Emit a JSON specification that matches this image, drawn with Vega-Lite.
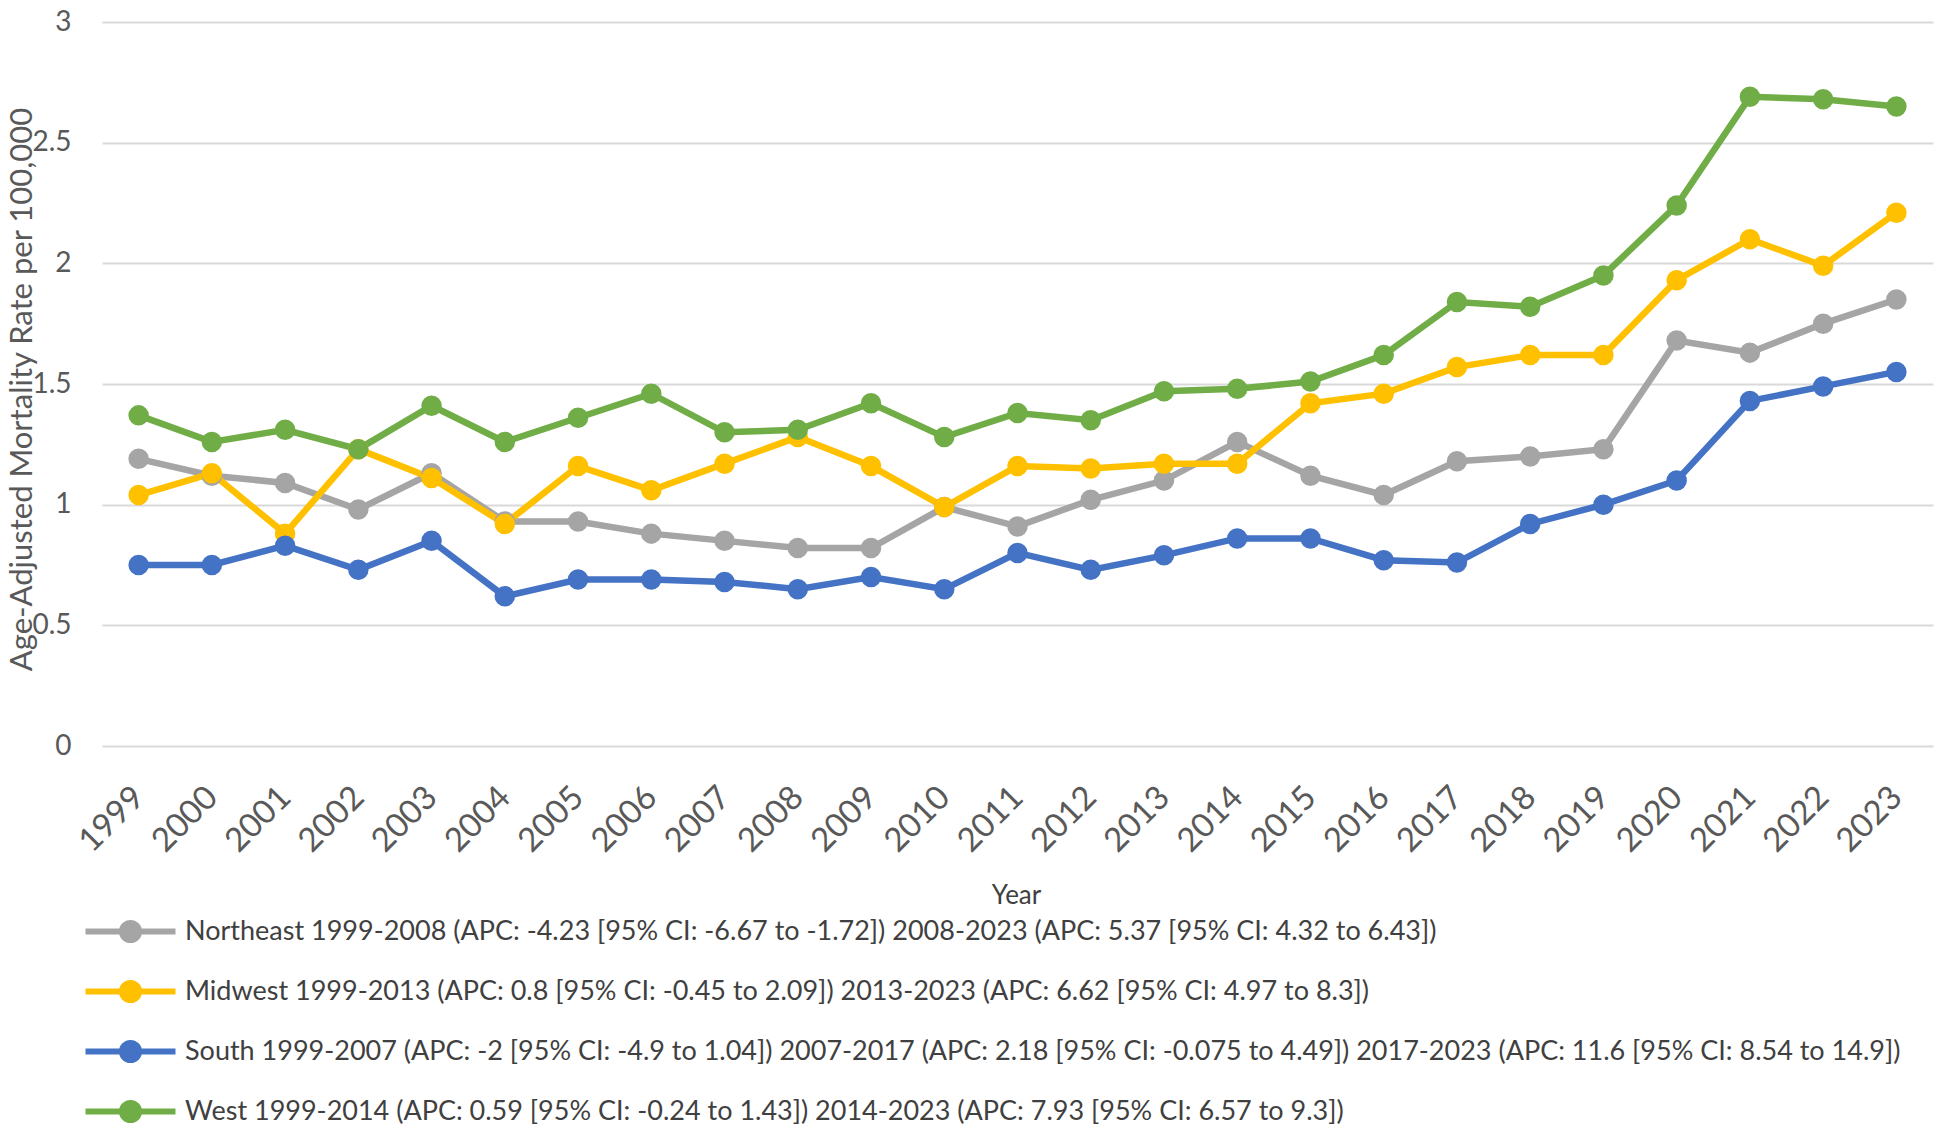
{
  "$schema": "https://vega.github.io/schema/vega-lite/v6.json",
  "width": 1831,
  "height": 724,
  "autosize": {"type": "none"},
  "padding": {"left": 102, "top": 22, "right": 10, "bottom": 382},
  "background": "white",
  "config": {
    "font": "Lato",
    "view": {"stroke": null}
  },
  "data": {
    "values": [
      {"year": "1999", "region": "Northeast", "rate": 1.19},
      {"year": "2000", "region": "Northeast", "rate": 1.12},
      {"year": "2001", "region": "Northeast", "rate": 1.09},
      {"year": "2002", "region": "Northeast", "rate": 0.98},
      {"year": "2003", "region": "Northeast", "rate": 1.13},
      {"year": "2004", "region": "Northeast", "rate": 0.93},
      {"year": "2005", "region": "Northeast", "rate": 0.93},
      {"year": "2006", "region": "Northeast", "rate": 0.88},
      {"year": "2007", "region": "Northeast", "rate": 0.85},
      {"year": "2008", "region": "Northeast", "rate": 0.82},
      {"year": "2009", "region": "Northeast", "rate": 0.82},
      {"year": "2010", "region": "Northeast", "rate": 0.99},
      {"year": "2011", "region": "Northeast", "rate": 0.91},
      {"year": "2012", "region": "Northeast", "rate": 1.02},
      {"year": "2013", "region": "Northeast", "rate": 1.10},
      {"year": "2014", "region": "Northeast", "rate": 1.26},
      {"year": "2015", "region": "Northeast", "rate": 1.12},
      {"year": "2016", "region": "Northeast", "rate": 1.04},
      {"year": "2017", "region": "Northeast", "rate": 1.18},
      {"year": "2018", "region": "Northeast", "rate": 1.20},
      {"year": "2019", "region": "Northeast", "rate": 1.23},
      {"year": "2020", "region": "Northeast", "rate": 1.68},
      {"year": "2021", "region": "Northeast", "rate": 1.63},
      {"year": "2022", "region": "Northeast", "rate": 1.75},
      {"year": "2023", "region": "Northeast", "rate": 1.85},
      {"year": "1999", "region": "Midwest", "rate": 1.04},
      {"year": "2000", "region": "Midwest", "rate": 1.13},
      {"year": "2001", "region": "Midwest", "rate": 0.88},
      {"year": "2002", "region": "Midwest", "rate": 1.23},
      {"year": "2003", "region": "Midwest", "rate": 1.11},
      {"year": "2004", "region": "Midwest", "rate": 0.92},
      {"year": "2005", "region": "Midwest", "rate": 1.16},
      {"year": "2006", "region": "Midwest", "rate": 1.06},
      {"year": "2007", "region": "Midwest", "rate": 1.17},
      {"year": "2008", "region": "Midwest", "rate": 1.28},
      {"year": "2009", "region": "Midwest", "rate": 1.16},
      {"year": "2010", "region": "Midwest", "rate": 0.99},
      {"year": "2011", "region": "Midwest", "rate": 1.16},
      {"year": "2012", "region": "Midwest", "rate": 1.15},
      {"year": "2013", "region": "Midwest", "rate": 1.17},
      {"year": "2014", "region": "Midwest", "rate": 1.17},
      {"year": "2015", "region": "Midwest", "rate": 1.42},
      {"year": "2016", "region": "Midwest", "rate": 1.46},
      {"year": "2017", "region": "Midwest", "rate": 1.57},
      {"year": "2018", "region": "Midwest", "rate": 1.62},
      {"year": "2019", "region": "Midwest", "rate": 1.62},
      {"year": "2020", "region": "Midwest", "rate": 1.93},
      {"year": "2021", "region": "Midwest", "rate": 2.10},
      {"year": "2022", "region": "Midwest", "rate": 1.99},
      {"year": "2023", "region": "Midwest", "rate": 2.21},
      {"year": "1999", "region": "South", "rate": 0.75},
      {"year": "2000", "region": "South", "rate": 0.75},
      {"year": "2001", "region": "South", "rate": 0.83},
      {"year": "2002", "region": "South", "rate": 0.73},
      {"year": "2003", "region": "South", "rate": 0.85},
      {"year": "2004", "region": "South", "rate": 0.62},
      {"year": "2005", "region": "South", "rate": 0.69},
      {"year": "2006", "region": "South", "rate": 0.69},
      {"year": "2007", "region": "South", "rate": 0.68},
      {"year": "2008", "region": "South", "rate": 0.65},
      {"year": "2009", "region": "South", "rate": 0.70},
      {"year": "2010", "region": "South", "rate": 0.65},
      {"year": "2011", "region": "South", "rate": 0.80},
      {"year": "2012", "region": "South", "rate": 0.73},
      {"year": "2013", "region": "South", "rate": 0.79},
      {"year": "2014", "region": "South", "rate": 0.86},
      {"year": "2015", "region": "South", "rate": 0.86},
      {"year": "2016", "region": "South", "rate": 0.77},
      {"year": "2017", "region": "South", "rate": 0.76},
      {"year": "2018", "region": "South", "rate": 0.92},
      {"year": "2019", "region": "South", "rate": 1.00},
      {"year": "2020", "region": "South", "rate": 1.10},
      {"year": "2021", "region": "South", "rate": 1.43},
      {"year": "2022", "region": "South", "rate": 1.49},
      {"year": "2023", "region": "South", "rate": 1.55},
      {"year": "1999", "region": "West", "rate": 1.37},
      {"year": "2000", "region": "West", "rate": 1.26},
      {"year": "2001", "region": "West", "rate": 1.31},
      {"year": "2002", "region": "West", "rate": 1.23},
      {"year": "2003", "region": "West", "rate": 1.41},
      {"year": "2004", "region": "West", "rate": 1.26},
      {"year": "2005", "region": "West", "rate": 1.36},
      {"year": "2006", "region": "West", "rate": 1.46},
      {"year": "2007", "region": "West", "rate": 1.30},
      {"year": "2008", "region": "West", "rate": 1.31},
      {"year": "2009", "region": "West", "rate": 1.42},
      {"year": "2010", "region": "West", "rate": 1.28},
      {"year": "2011", "region": "West", "rate": 1.38},
      {"year": "2012", "region": "West", "rate": 1.35},
      {"year": "2013", "region": "West", "rate": 1.47},
      {"year": "2014", "region": "West", "rate": 1.48},
      {"year": "2015", "region": "West", "rate": 1.51},
      {"year": "2016", "region": "West", "rate": 1.62},
      {"year": "2017", "region": "West", "rate": 1.84},
      {"year": "2018", "region": "West", "rate": 1.82},
      {"year": "2019", "region": "West", "rate": 1.95},
      {"year": "2020", "region": "West", "rate": 2.24},
      {"year": "2021", "region": "West", "rate": 2.69},
      {"year": "2022", "region": "West", "rate": 2.68},
      {"year": "2023", "region": "West", "rate": 2.65}
    ]
  },
  "mark": {"type": "line", "strokeWidth": 6.5, "point": {"filled": true, "size": 420, "opacity": 1}},
  "encoding": {
    "x": {
      "field": "year",
      "type": "ordinal",
      "scale": {"type": "point", "padding": 0.5},
      "axis": {
        "title": "Year",
        "titleFontSize": 26,
        "titleFontWeight": "normal",
        "titleColor": "#404040",
        "titleX": 914,
        "titleY": 149,
        "titleBaseline": "middle",
        "titleAlign": "center",
        "labelAngle": -45,
        "labelAlign": "right",
        "labelBaseline": "middle",
        "labelPadding": 46,
        "labelFontSize": 33,
        "labelColor": "#595959",
        "ticks": false,
        "domain": false,
        "grid": false
      }
    },
    "y": {
      "field": "rate",
      "type": "quantitative",
      "scale": {"domain": [0, 3], "nice": false},
      "axis": {
        "title": "Age-Adjusted Mortality Rate per 100,000",
        "titleFontSize": 31,
        "titleFontWeight": "normal",
        "titleColor": "#595959",
        "titleX": -80,
        "titleY": 367,
        "titleAngle": -90,
        "titleAlign": "center",
        "titleBaseline": "middle",
        "values": [0, 0.5, 1, 1.5, 2, 2.5, 3],
        "format": "~g",
        "labelFontSize": 28,
        "labelColor": "#595959",
        "labelPadding": 31,
        "ticks": false,
        "domain": false,
        "grid": true,
        "gridColor": "#D9D9D9",
        "gridWidth": 2
      }
    },
    "color": {
      "field": "region",
      "type": "nominal",
      "scale": {
        "domain": ["Northeast", "Midwest", "South", "West"],
        "range": ["#A5A5A5", "#FFC000", "#4472C4", "#70AD47"]
      },
      "legend": {
        "orient": "none",
        "legendX": 3,
        "legendY": 884,
        "direction": "vertical",
        "title": null,
        "symbolType": "M-2,0H2M0.38,0A0.38,0.38 0 1,1 -0.38,0A0.38,0.38 0 1,1 0.38,0Z",
        "symbolSize": 2025,
        "symbolStrokeWidth": 6,
        "symbolOpacity": 1,
        "labelFontSize": 27,
        "labelColor": "#404040",
        "labelLimit": 2000,
        "labelOffset": 29,
        "rowPadding": 13,
        "labelExpr": "datum.label === 'Northeast' ? 'Northeast 1999-2008 (APC: -4.23 [95% CI: -6.67 to -1.72]) 2008-2023 (APC: 5.37 [95% CI: 4.32 to 6.43])' : datum.label === 'Midwest' ? 'Midwest 1999-2013 (APC: 0.8 [95% CI: -0.45 to 2.09]) 2013-2023 (APC: 6.62 [95% CI: 4.97 to 8.3])' : datum.label === 'South' ? 'South 1999-2007 (APC: -2 [95% CI: -4.9 to 1.04]) 2007-2017 (APC: 2.18 [95% CI: -0.075 to 4.49]) 2017-2023 (APC: 11.6 [95% CI: 8.54 to 14.9])' : 'West 1999-2014 (APC: 0.59 [95% CI: -0.24 to 1.43]) 2014-2023 (APC: 7.93 [95% CI: 6.57 to 9.3])'"
      }
    }
  }
}
